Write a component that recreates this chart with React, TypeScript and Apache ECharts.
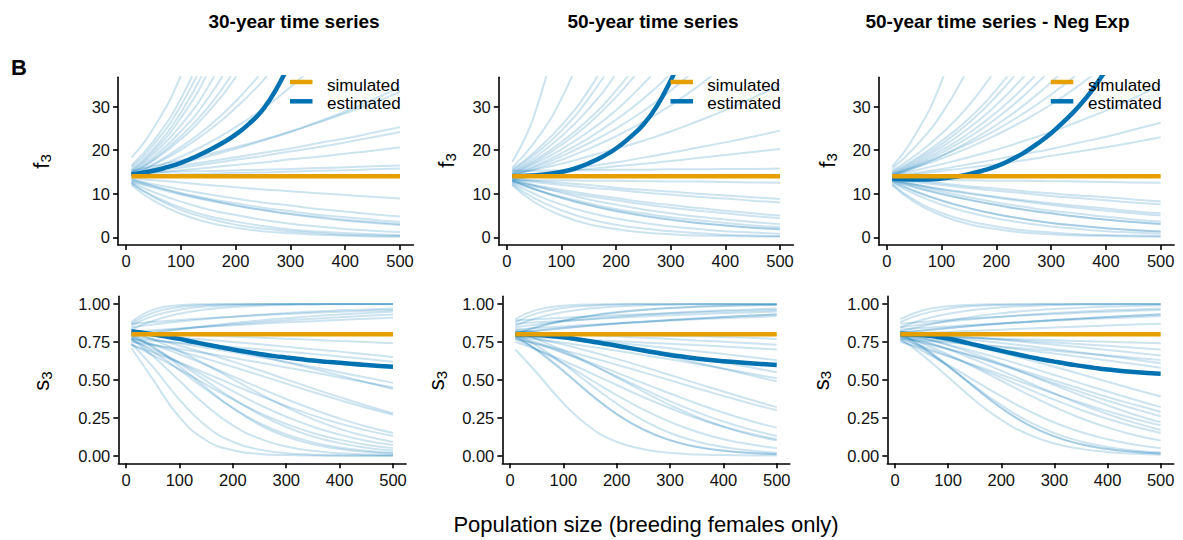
import React, { useEffect, useRef } from 'react';
import * as echarts from 'echarts';

// ---------- data ----------
const xs = [10, 50, 100, 150, 200, 250, 300, 350, 400, 450, 500];
const estXs = [10, 50, 75, 100, 125, 150, 175, 200, 225, 250, 275, 300, 325, 350, 375, 400, 450, 500];
const simRange = [10, 500];
const simF3 = 14;
const simS3 = 0.8;
const xTicks = [0, 100, 200, 300, 400, 500];
const f3Ticks = [0, 10, 20, 30];
const s3Ticks = [0, 0.25, 0.5, 0.75, 1];
const colTitles = ['30-year time series', '50-year time series', '50-year time series - Neg Exp'];
const legendLabels = ['simulated', 'estimated'];
const xTitle = 'Population size (breeding females only)';

const f3Thirty: number[][] = [
  [18.3, 25.0, 37.1, 54.8],
  [16.5, 22.1, 31.8, 45.7],
  [16.0, 21.2, 30.2, 42.9],
  [15.5, 20.3, 28.6, 40.2],
  [15.2, 19.7, 27.4, 38.0, 52.7],
  [15.0, 19.1, 25.7, 34.6, 46.6],
  [14.8, 18.4, 24.3, 32.0, 42.2],
  [14.6, 17.9, 23.2, 29.9, 38.7],
  [14.5, 17.6, 22.5, 28.8, 36.8, 47.0],
  [14.3, 16.8, 20.7, 25.4, 31.2, 38.3],
  [14.2, 16.6, 20.1, 24.4, 29.7, 36.0, 43.7],
  [14.0, 15.9, 18.5, 21.6, 25.3, 29.5, 34.5, 40.3],
  [14.5, 15.6, 17.0, 18.6, 20.3, 22.2, 24.2, 26.5, 28.9, 31.6, 34.5],
  [15.3, 16.3, 17.7, 19.1, 20.7, 22.4, 24.3, 26.3, 28.5, 30.8, 33.4],
  [15.0, 15.7, 16.5, 17.4, 18.4, 19.4, 20.4, 21.6, 22.7, 24.0, 25.3],
  [14.6, 15.2, 16.0, 16.9, 17.8, 18.7, 19.7, 20.7, 21.8, 23.0, 24.2],
  [14.4, 14.8, 15.4, 16.0, 16.6, 17.2, 17.9, 18.5, 19.2, 19.9, 20.7],
  [14.8, 14.9, 15.1, 15.2, 15.4, 15.5, 15.7, 15.9, 16.1, 16.3, 16.5],
  [14.2, 14.3, 14.5, 14.6, 14.8, 14.9, 15.1, 15.3, 15.4, 15.6, 15.8],
  [13.6, 13.1, 12.6, 12.0, 11.5, 11.0, 10.6, 10.1, 9.7, 9.3, 8.9],
  [13.2, 12.2, 11.0, 9.9, 8.9, 8.0, 7.3, 6.5, 5.9, 5.3, 4.8],
  [13.0, 11.7, 10.2, 8.9, 7.8, 6.8, 6.0, 5.2, 4.6, 4.0, 3.5],
  [12.8, 11.4, 9.8, 8.5, 7.3, 6.3, 5.4, 4.7, 4.0, 3.5, 3.0],
  [12.6, 10.4, 8.2, 6.4, 5.1, 4.0, 3.1, 2.5, 1.9, 1.5, 1.2],
  [12.3, 9.5, 6.8, 4.9, 3.6, 2.6, 1.8, 1.3, 1.0, 0.7, 0.5],
  [12.0, 8.4, 5.4, 3.4, 2.2, 1.4, 0.9, 0.6, 0.4, 0.2, 0.15],
  [12.5, 9.2, 6.3, 4.3, 2.9, 2.0, 1.4, 0.9, 0.6, 0.4, 0.3],
  [13.4, 11.8, 10.0, 8.6, 7.3, 6.2, 5.3, 4.5, 3.8, 3.3, 2.8],
];
const f3ThirtyEst = [14.4, 15.3, 16.1, 17.1, 18.4, 19.9, 21.6, 23.6, 26.1, 29.4, 34.2, 40.5];

const f3Fifty: number[][] = [
  [17.3, 27.9, 50.8],
  [16.0, 21.7, 31.8, 46.6],
  [15.6, 19.5, 25.7, 33.8, 44.6],
  [15.3, 18.9, 24.5, 31.9, 41.5],
  [15.0, 18.2, 23.2, 29.5, 37.6, 48.0],
  [14.8, 17.6, 21.9, 27.1, 33.7, 41.8],
  [14.6, 17.2, 21.2, 26.1, 32.2, 39.6],
  [14.5, 16.8, 20.2, 24.3, 29.2, 35.2, 42.3],
  [14.3, 16.3, 19.3, 22.8, 27.0, 31.8, 37.6, 44.4],
  [14.2, 16.0, 18.6, 21.6, 25.0, 29.0, 33.7, 39.1],
  [14.0, 15.6, 17.8, 20.3, 23.2, 26.5, 30.3, 34.7, 39.6],
  [14.4, 15.5, 16.9, 18.6, 20.3, 22.2, 24.3, 26.7, 29.2, 32.0, 35.0],
  [13.8, 14.5, 15.3, 16.3, 17.2, 18.3, 19.4, 20.6, 21.8, 23.1, 24.5],
  [14.2, 14.6, 15.2, 15.7, 16.3, 16.9, 17.5, 18.2, 18.9, 19.6, 20.3],
  [15.3, 15.3, 15.4, 15.4, 15.5, 15.5, 15.6, 15.6, 15.7, 15.7, 15.8],
  [13.2, 13.1, 13.1, 13.0, 13.0, 12.9, 12.8, 12.8, 12.7, 12.6, 12.5],
  [13.5, 13.0, 12.5, 12.0, 11.4, 10.9, 10.5, 10.0, 9.6, 9.2, 8.8],
  [13.2, 12.7, 12.0, 11.4, 10.9, 10.3, 9.8, 9.3, 8.9, 8.4, 8.0],
  [13.0, 12.0, 10.9, 9.9, 9.0, 8.1, 7.4, 6.7, 6.1, 5.5, 5.0],
  [12.8, 11.7, 10.5, 9.4, 8.5, 7.6, 6.8, 6.1, 5.5, 4.9, 4.4],
  [13.4, 11.9, 10.2, 8.7, 7.5, 6.4, 5.5, 4.7, 4.1, 3.5, 3.0],
  [13.0, 11.1, 9.0, 7.4, 6.0, 4.9, 4.0, 3.3, 2.7, 2.2, 1.8],
  [13.1, 11.2, 9.1, 7.4, 6.1, 5.0, 4.1, 3.3, 2.7, 2.2, 1.9],
  [12.5, 10.0, 7.5, 5.7, 4.3, 3.3, 2.5, 1.9, 1.4, 1.1, 0.8],
  [12.2, 9.0, 6.2, 4.2, 2.9, 2.0, 1.4, 0.9, 0.6, 0.4, 0.3],
  [12.7, 11.0, 9.3, 7.8, 6.5, 5.5, 4.6, 3.9, 3.3, 2.7, 2.3],
  [12.0, 8.1, 5.0, 3.0, 1.9, 1.1, 0.7, 0.4, 0.3, 0.2, 0.1],
];
const f3FiftyEst = [14.0, 14.2, 14.5, 15.0, 15.8, 17.0, 18.5, 20.4, 22.9, 25.9, 30.2, 36.0, 43.0];

const f3NegExp: number[][] = [
  [16.3, 23.1, 35.8, 55.4],
  [15.8, 20.5, 28.3, 39.2],
  [15.3, 18.6, 23.8, 30.3, 38.8],
  [15.0, 17.8, 22.1, 27.3, 33.9, 42.0],
  [14.8, 17.4, 21.4, 26.3, 32.4, 39.7],
  [14.6, 17.0, 20.7, 25.1, 30.4, 36.9, 44.7],
  [14.4, 16.6, 20.0, 23.9, 28.7, 34.4, 41.3],
  [14.2, 16.3, 19.4, 23.0, 27.3, 32.5, 38.6],
  [14.0, 15.9, 18.7, 22.0, 25.8, 30.3, 35.6, 41.8],
  [14.5, 16.2, 18.7, 21.5, 24.7, 28.5, 32.8, 37.7],
  [14.3, 15.9, 18.1, 20.6, 23.5, 26.8, 30.5, 34.8, 39.7],
  [14.2, 15.3, 16.8, 18.4, 20.1, 22.1, 24.2, 26.6, 29.1, 31.9, 35.0],
  [14.0, 14.7, 15.7, 16.8, 17.9, 19.1, 20.3, 21.7, 23.1, 24.7, 26.3],
  [13.8, 14.4, 15.2, 16.0, 16.8, 17.7, 18.7, 19.7, 20.7, 21.8, 23.0],
  [13.3, 13.2, 13.2, 13.1, 13.0, 13.0, 12.9, 12.8, 12.7, 12.6, 12.5],
  [13.5, 13.0, 12.4, 11.7, 11.2, 10.6, 10.1, 9.6, 9.2, 8.7, 8.3],
  [13.3, 12.7, 12.0, 11.3, 10.7, 10.1, 9.5, 9.0, 8.5, 8.0, 7.6],
  [13.0, 12.1, 11.1, 10.2, 9.3, 8.5, 7.8, 7.2, 6.6, 6.0, 5.5],
  [13.2, 12.2, 11.0, 10.0, 9.1, 8.2, 7.4, 6.7, 6.1, 5.5, 5.0],
  [13.0, 11.5, 9.9, 8.6, 7.4, 6.3, 5.5, 4.7, 4.0, 3.5, 3.0],
  [13.1, 11.6, 10.0, 8.6, 7.4, 6.4, 5.5, 4.7, 4.1, 3.5, 3.1],
  [12.8, 10.6, 8.4, 6.7, 5.3, 4.2, 3.3, 2.6, 2.1, 1.6, 1.3],
  [12.9, 10.7, 8.5, 6.7, 5.3, 4.2, 3.3, 2.7, 2.1, 1.7, 1.3],
  [12.5, 10.0, 7.5, 5.7, 4.3, 3.3, 2.5, 1.9, 1.4, 1.1, 0.8],
  [12.2, 8.6, 5.6, 3.7, 2.5, 1.6, 1.1, 0.7, 0.5, 0.4, 0.3],
  [12.0, 8.1, 5.0, 3.0, 1.9, 1.1, 0.7, 0.4, 0.3, 0.2, 0.1],
  [13.3, 12.0, 10.5, 9.2, 8.0, 7.0, 6.1, 5.4, 4.7, 4.1, 3.6],
];
const f3NegExpEst = [13.5, 13.3, 13.3, 13.5, 13.9, 14.5, 15.3, 16.3, 17.7, 19.4, 21.5, 23.9, 26.8, 30.0, 33.8, 38.5];

const s3Thirty: number[][] = [
  [0.74, 0.587, 0.37, 0.196, 0.092, 0.04, 0.017, 0.007, 0.003, 0.001, 0],
  [0.77, 0.658, 0.494, 0.331, 0.2, 0.113, 0.061, 0.032, 0.016, 0.008, 0.004],
  [0.8, 0.719, 0.59, 0.448, 0.313, 0.204, 0.126, 0.075, 0.044, 0.025, 0.014],
  [0.786, 0.715, 0.609, 0.493, 0.376, 0.273, 0.189, 0.127, 0.083, 0.053, 0.034],
  [0.76, 0.7, 0.614, 0.52, 0.426, 0.336, 0.257, 0.191, 0.139, 0.099, 0.07],
  [0.818, 0.767, 0.69, 0.601, 0.505, 0.409, 0.32, 0.241, 0.177, 0.128, 0.09],
  [0.731, 0.682, 0.615, 0.543, 0.469, 0.396, 0.328, 0.266, 0.212, 0.167, 0.13],
  [0.777, 0.732, 0.669, 0.598, 0.523, 0.447, 0.374, 0.306, 0.245, 0.193, 0.15],
  [0.8, 0.77, 0.725, 0.675, 0.62, 0.563, 0.503, 0.444, 0.386, 0.331, 0.28],
  [0.769, 0.735, 0.689, 0.639, 0.586, 0.531, 0.475, 0.42, 0.367, 0.316, 0.27],
  [0.786, 0.766, 0.74, 0.712, 0.682, 0.651, 0.618, 0.585, 0.55, 0.515, 0.48],
  [0.75, 0.73, 0.703, 0.675, 0.645, 0.614, 0.582, 0.55, 0.516, 0.483, 0.45],
  [0.818, 0.795, 0.765, 0.732, 0.695, 0.657, 0.615, 0.573, 0.529, 0.484, 0.44],
  [0.8, 0.792, 0.779, 0.764, 0.75, 0.735, 0.719, 0.702, 0.686, 0.668, 0.65],
  [0.769, 0.758, 0.745, 0.73, 0.716, 0.701, 0.686, 0.67, 0.654, 0.637, 0.62],
  [0.81, 0.805, 0.799, 0.792, 0.785, 0.778, 0.771, 0.764, 0.756, 0.749, 0.741],
  [0.88, 0.961, 0.991, 0.998, 0.999, 1, 1, 1, 1, 1, 1],
  [0.87, 0.942, 0.98, 0.993, 0.998, 0.999, 1, 1, 1, 1, 1],
  [0.858, 0.92, 0.962, 0.983, 0.992, 0.996, 0.998, 0.999, 1, 1, 1],
  [0.832, 0.889, 0.936, 0.964, 0.98, 0.989, 0.994, 0.997, 0.998, 0.999, 0.999],
  [0.846, 0.864, 0.884, 0.901, 0.916, 0.929, 0.94, 0.95, 0.958, 0.964, 0.97],
  [0.786, 0.807, 0.832, 0.854, 0.874, 0.891, 0.906, 0.92, 0.931, 0.941, 0.95],
  [0.87, 0.881, 0.894, 0.906, 0.916, 0.926, 0.934, 0.942, 0.949, 0.955, 0.96],
  [0.818, 0.827, 0.839, 0.85, 0.86, 0.87, 0.879, 0.887, 0.895, 0.903, 0.91],
  [0.8, 0.817, 0.835, 0.851, 0.866, 0.88, 0.892, 0.903, 0.913, 0.923, 0.931],
  [0.71, 0.505, 0.254, 0.102, 0.036, 0.012, 0.004, 0.001, 0, 0, 0],
  [0.769, 0.687, 0.566, 0.436, 0.315, 0.215, 0.14, 0.088, 0.054, 0.033, 0.02],
  [0.731, 0.663, 0.569, 0.469, 0.371, 0.283, 0.209, 0.15, 0.106, 0.073, 0.05],
];
const s3ThirtyEst = [0.82, 0.8, 0.786, 0.77, 0.751, 0.733, 0.716, 0.7, 0.685, 0.671, 0.658, 0.647, 0.637, 0.627, 0.619, 0.612, 0.598, 0.587];

const s3Fifty: number[][] = [
  [0.7, 0.547, 0.346, 0.188, 0.092, 0.043, 0.019, 0.008, 0.004, 0.002, 0.001],
  [0.786, 0.694, 0.555, 0.406, 0.273, 0.171, 0.102, 0.058, 0.033, 0.018, 0.01],
  [0.79, 0.7, 0.562, 0.41, 0.276, 0.173, 0.103, 0.059, 0.034, 0.019, 0.011],
  [0.802, 0.725, 0.605, 0.472, 0.343, 0.233, 0.15, 0.094, 0.057, 0.034, 0.02],
  [0.769, 0.703, 0.608, 0.504, 0.4, 0.304, 0.223, 0.158, 0.109, 0.075, 0.05],
  [0.818, 0.768, 0.694, 0.609, 0.516, 0.423, 0.334, 0.256, 0.191, 0.139, 0.1],
  [0.75, 0.698, 0.626, 0.547, 0.466, 0.386, 0.313, 0.247, 0.192, 0.146, 0.11],
  [0.794, 0.747, 0.68, 0.604, 0.522, 0.44, 0.36, 0.288, 0.225, 0.173, 0.13],
  [0.777, 0.736, 0.679, 0.615, 0.548, 0.478, 0.41, 0.344, 0.284, 0.231, 0.185],
  [0.802, 0.773, 0.732, 0.687, 0.638, 0.586, 0.532, 0.477, 0.423, 0.37, 0.32],
  [0.769, 0.737, 0.695, 0.649, 0.6, 0.549, 0.497, 0.445, 0.394, 0.345, 0.3],
  [0.818, 0.801, 0.779, 0.756, 0.73, 0.703, 0.675, 0.645, 0.614, 0.583, 0.55],
  [0.786, 0.768, 0.744, 0.719, 0.692, 0.664, 0.635, 0.605, 0.574, 0.542, 0.51],
  [0.832, 0.812, 0.786, 0.756, 0.724, 0.689, 0.652, 0.613, 0.573, 0.531, 0.49],
  [0.802, 0.791, 0.776, 0.76, 0.743, 0.726, 0.708, 0.689, 0.67, 0.65, 0.63],
  [0.786, 0.78, 0.772, 0.763, 0.755, 0.746, 0.738, 0.729, 0.72, 0.71, 0.7],
  [0.818, 0.811, 0.803, 0.795, 0.787, 0.778, 0.769, 0.76, 0.751, 0.741, 0.731],
  [0.81, 0.808, 0.805, 0.802, 0.799, 0.795, 0.791, 0.787, 0.783, 0.777, 0.77],
  [0.9, 0.961, 0.988, 0.997, 0.999, 1, 1, 1, 1, 1, 1],
  [0.88, 0.938, 0.974, 0.989, 0.996, 0.998, 0.999, 1, 1, 1, 1],
  [0.858, 0.907, 0.947, 0.97, 0.983, 0.991, 0.995, 0.997, 0.998, 0.999, 0.999],
  [0.802, 0.846, 0.888, 0.921, 0.944, 0.961, 0.973, 0.981, 0.987, 0.991, 0.994],
  [0.806, 0.85, 0.891, 0.923, 0.946, 0.962, 0.974, 0.982, 0.988, 0.992, 0.995],
  [0.846, 0.864, 0.884, 0.901, 0.916, 0.929, 0.94, 0.95, 0.958, 0.964, 0.97],
  [0.891, 0.899, 0.909, 0.918, 0.926, 0.933, 0.939, 0.945, 0.951, 0.956, 0.96],
  [0.81, 0.824, 0.84, 0.856, 0.87, 0.882, 0.894, 0.904, 0.914, 0.923, 0.931],
  [0.812, 0.826, 0.842, 0.857, 0.871, 0.884, 0.895, 0.905, 0.915, 0.924, 0.932],
  [0.87, 0.879, 0.89, 0.9, 0.909, 0.918, 0.925, 0.932, 0.939, 0.944, 0.95],
  [0.832, 0.841, 0.852, 0.863, 0.873, 0.882, 0.891, 0.899, 0.906, 0.913, 0.92],
];
const s3FiftyEst = [0.8, 0.795, 0.789, 0.78, 0.768, 0.755, 0.74, 0.725, 0.709, 0.693, 0.678, 0.664, 0.652, 0.641, 0.631, 0.623, 0.609, 0.598];

const s3NegExp: number[][] = [
  [0.769, 0.668, 0.519, 0.366, 0.236, 0.142, 0.081, 0.045, 0.025, 0.013, 0.007],
  [0.802, 0.719, 0.59, 0.448, 0.313, 0.204, 0.126, 0.075, 0.044, 0.025, 0.014],
  [0.805, 0.722, 0.594, 0.451, 0.316, 0.206, 0.128, 0.076, 0.045, 0.026, 0.015],
  [0.786, 0.707, 0.588, 0.458, 0.333, 0.228, 0.149, 0.094, 0.058, 0.035, 0.021],
  [0.76, 0.693, 0.598, 0.495, 0.392, 0.299, 0.219, 0.156, 0.108, 0.074, 0.05],
  [0.794, 0.743, 0.668, 0.583, 0.494, 0.404, 0.321, 0.247, 0.186, 0.137, 0.1],
  [0.769, 0.723, 0.659, 0.589, 0.515, 0.441, 0.369, 0.302, 0.243, 0.192, 0.15],
  [0.802, 0.761, 0.701, 0.633, 0.56, 0.485, 0.41, 0.338, 0.274, 0.218, 0.17],
  [0.75, 0.71, 0.655, 0.596, 0.534, 0.471, 0.408, 0.349, 0.294, 0.244, 0.2],
  [0.818, 0.781, 0.729, 0.67, 0.605, 0.536, 0.466, 0.397, 0.332, 0.272, 0.22],
  [0.786, 0.752, 0.705, 0.652, 0.596, 0.538, 0.478, 0.419, 0.362, 0.309, 0.26],
  [0.777, 0.746, 0.702, 0.654, 0.603, 0.55, 0.495, 0.441, 0.387, 0.337, 0.29],
  [0.802, 0.773, 0.732, 0.687, 0.638, 0.586, 0.532, 0.477, 0.423, 0.37, 0.32],
  [0.818, 0.793, 0.758, 0.72, 0.678, 0.633, 0.586, 0.537, 0.488, 0.438, 0.39],
  [0.786, 0.772, 0.754, 0.735, 0.715, 0.694, 0.673, 0.651, 0.628, 0.604, 0.58],
  [0.81, 0.797, 0.78, 0.762, 0.743, 0.723, 0.702, 0.68, 0.657, 0.634, 0.61],
  [0.769, 0.759, 0.746, 0.733, 0.719, 0.705, 0.691, 0.676, 0.661, 0.646, 0.63],
  [0.818, 0.807, 0.793, 0.779, 0.764, 0.748, 0.732, 0.715, 0.697, 0.679, 0.66],
  [0.802, 0.795, 0.786, 0.776, 0.766, 0.756, 0.746, 0.735, 0.724, 0.712, 0.7],
  [0.789, 0.786, 0.781, 0.776, 0.771, 0.766, 0.761, 0.756, 0.751, 0.746, 0.741],
  [0.9, 0.956, 0.985, 0.995, 0.998, 0.999, 1, 1, 1, 1, 1],
  [0.88, 0.933, 0.969, 0.986, 0.994, 0.997, 0.999, 1, 1, 1, 1],
  [0.846, 0.895, 0.936, 0.962, 0.978, 0.987, 0.993, 0.996, 0.997, 0.998, 0.999],
  [0.81, 0.824, 0.84, 0.856, 0.87, 0.882, 0.894, 0.904, 0.914, 0.923, 0.931],
  [0.812, 0.826, 0.842, 0.857, 0.871, 0.884, 0.895, 0.905, 0.915, 0.924, 0.932],
  [0.846, 0.864, 0.884, 0.901, 0.916, 0.929, 0.94, 0.95, 0.958, 0.964, 0.97],
  [0.87, 0.881, 0.894, 0.906, 0.916, 0.926, 0.934, 0.942, 0.949, 0.955, 0.96],
  [0.802, 0.809, 0.816, 0.824, 0.831, 0.838, 0.845, 0.852, 0.858, 0.864, 0.87],
  [0.832, 0.841, 0.852, 0.863, 0.873, 0.882, 0.891, 0.899, 0.906, 0.913, 0.92],
  [0.818, 0.853, 0.889, 0.918, 0.939, 0.955, 0.967, 0.976, 0.983, 0.987, 0.991],
];
const s3NegExpEst = [0.8, 0.795, 0.786, 0.772, 0.753, 0.732, 0.711, 0.691, 0.672, 0.653, 0.636, 0.62, 0.605, 0.592, 0.579, 0.568, 0.551, 0.54];

// ---------- styling / layout ----------
const FONT = "'Liberation Sans', Arial, Helvetica, sans-serif";
const BLUE = '#0072B2';
const ORANGE = '#E69F00';
const INK = '#111111';

const panels = [
  { runs: f3Thirty, est: f3ThirtyEst, sim: simF3, kind: 'f' },
  { runs: f3Fifty, est: f3FiftyEst, sim: simF3, kind: 'f' },
  { runs: f3NegExp, est: f3NegExpEst, sim: simF3, kind: 'f' },
  { runs: s3Thirty, est: s3ThirtyEst, sim: simS3, kind: 's' },
  { runs: s3Fifty, est: s3FiftyEst, sim: simS3, kind: 's' },
  { runs: s3NegExp, est: s3NegExpEst, sim: simS3, kind: 's' },
];

const gridBoxes = [
  { left: 118.05, top: 77.3, width: 295.4, height: 167.6 },
  { left: 498.8, top: 77.3, width: 294.6, height: 167.6 },
  { left: 878.8, top: 77.3, width: 295.3, height: 167.6 },
  { left: 118.3, top: 296.4, width: 287.8, height: 166.9 },
  { left: 502.3, top: 296.4, width: 287.5, height: 166.9 },
  { left: 887.3, top: 296.4, width: 286.4, height: 166.9 },
];
const yNamePos = [
  [41, 161.5], [446, 160.5], [827, 160.5],
  [41.5, 381], [436.5, 380.5], [821, 380.5],
];
const titlePos = [294, 653, 997.5];
const legendKeyX = [290, 670.5, 1050.8];
const legendTextX = [327, 707.3, 1088];

function buildOption() {
  const series: any[] = [];
  panels.forEach((p, i) => {
    p.runs.forEach((run) => {
      series.push({
        type: 'line', xAxisIndex: i, yAxisIndex: i,
        data: run.map((v, j) => [xs[j], v]),
        smooth: 0.5, symbol: 'none', showSymbol: false, silent: true, clip: true,
        lineStyle: { color: BLUE, width: 2, opacity: 0.2 }, z: 1,
      });
    });
    series.push({
      type: 'line', xAxisIndex: i, yAxisIndex: i, name: legendLabels[1],
      data: p.est.map((v, j) => [estXs[j], v]),
      smooth: 0.5, symbol: 'none', showSymbol: false, silent: true, clip: true,
      lineStyle: { color: BLUE, width: 4.5 }, z: 3,
    });
    series.push({
      type: 'line', xAxisIndex: i, yAxisIndex: i, name: legendLabels[0],
      data: simRange.map((x) => [x, p.sim]),
      symbol: 'none', showSymbol: false, silent: true, clip: true,
      lineStyle: { color: ORANGE, width: 4.5 }, z: 4,
    });
  });

  const axisLine = { show: true, onZero: false, lineStyle: { color: '#000', width: 1.6 } };
  const xAxis = gridBoxes.map((_, i) => ({
    type: 'value', gridIndex: i, min: -14.5, max: 524.5,
    axisLine,
    axisTick: { show: true, length: 5, inside: false, lineStyle: { color: '#000', width: 1.6 }, customValues: xTicks },
    axisLabel: { show: true, customValues: xTicks, color: INK, fontSize: 16.5, fontFamily: FONT, margin: 8 },
    splitLine: { show: false },
  }));
  const yAxis = panels.map((p, i) => {
    const isF = p.kind === 'f';
    const ticks = isF ? f3Ticks : s3Ticks;
    return {
      type: 'value', gridIndex: i,
      min: isF ? -1.75 : -0.05, max: isF ? 36.75 : 1.05,
      axisLine,
      axisTick: { show: true, length: 5, inside: false, lineStyle: { color: '#000', width: 1.6 }, customValues: ticks },
      axisLabel: {
        show: true, customValues: ticks, color: INK, fontSize: 16.5, fontFamily: FONT, margin: 8,
        formatter: (v: number) => (isF ? String(v) : v.toFixed(2)),
      },
      splitLine: { show: false },
    };
  });

  const graphic: any[] = [];
  colTitles.forEach((t, i) => {
    graphic.push({
      type: 'text', x: titlePos[i], y: 21, silent: true,
      style: { text: t, fill: '#000', fontSize: 19, fontWeight: 'bold', fontFamily: FONT, align: 'center', verticalAlign: 'middle' },
    });
  });
  graphic.push({
    type: 'text', x: 11, y: 67, silent: true,
    style: { text: 'B', fill: '#000', fontSize: 22, fontWeight: 'bold', fontFamily: FONT, align: 'left', verticalAlign: 'middle' },
  });
  graphic.push({
    type: 'text', x: 646, y: 524, silent: true,
    style: { text: xTitle, fill: '#000', fontSize: 22, fontFamily: FONT, align: 'center', verticalAlign: 'middle' },
  });
  panels.forEach((p, i) => {
    graphic.push({
      type: 'text', x: yNamePos[i][0], y: yNamePos[i][1], rotation: Math.PI / 2, silent: true,
      style: {
        text: `{a|${p.kind}}{b|3}`, fill: '#000', fontFamily: FONT, align: 'center', verticalAlign: 'middle',
        rich: {
          a: { fontSize: 22, fontFamily: FONT, fill: '#000', lineHeight: 24 },
          b: { fontSize: 15, fontFamily: FONT, fill: '#000', lineHeight: 15, padding: [10, 0, 0, 0], verticalAlign: 'bottom' },
        },
      },
    });
  });
  [0, 1, 2].forEach((i) => {
    const keys = [ORANGE, BLUE];
    const keyY = [82, 101.3];
    const txtY = [85, 103.8];
    keys.forEach((c, k) => {
      graphic.push({
        type: 'rect', silent: true, z: 100,
        shape: { x: legendKeyX[i], y: keyY[k] - 2.25, width: 22.5, height: 4.5 },
        style: { fill: c },
      });
      graphic.push({
        type: 'text', x: legendTextX[i], y: txtY[k], silent: true, z: 100,
        style: { text: legendLabels[k], fill: '#000', fontSize: 17, fontFamily: FONT, align: 'left', verticalAlign: 'middle' },
      });
    });
  });

  return {
    animation: false,
    backgroundColor: '#ffffff',
    textStyle: { fontFamily: FONT },
    grid: gridBoxes.map((g) => ({ ...g, containLabel: false, outerBoundsMode: 'none' })),
    xAxis,
    yAxis,
    series,
    graphic,
  };
}

export default function App() {
  const ref = useRef<HTMLDivElement>(null);
  useEffect(() => {
    if (!ref.current) return;
    const chart = echarts.init(ref.current, undefined, { renderer: 'svg' });
    chart.setOption(buildOption() as any);
    return () => chart.dispose();
  }, []);
  return (
    <div
      ref={ref}
      style={{ position: 'absolute', left: 0, top: 0, width: 1183, height: 540, background: '#fff' }}
    />
  );
}
